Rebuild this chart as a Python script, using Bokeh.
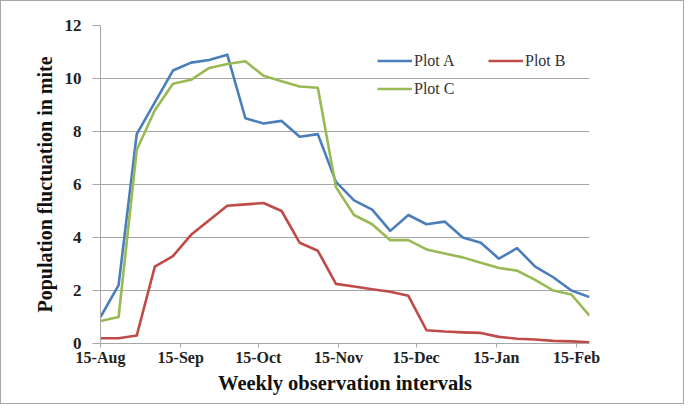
import pandas as pd
from bokeh.plotting import figure
from bokeh.models import Range1d, FixedTicker, DatetimeTickFormatter, Legend
from bokeh.embed import file_html
from bokeh.resources import INLINE

# ---- data (weekly observations starting 15-Aug) ----
start_date = "2012-08-15"
n_obs = 28
plot_a = [1.0, 2.2, 7.9, 9.1, 10.3, 10.6, 10.7, 10.9, 8.5, 8.3, 8.4, 7.8, 7.9, 6.1,
          5.4, 5.05, 4.25, 4.85, 4.5, 4.6, 4.0, 3.8, 3.2, 3.6, 2.9, 2.5, 2.0, 1.75]
plot_b = [0.2, 0.2, 0.3, 2.9, 3.3, 4.1, 4.65, 5.2, 5.25, 5.3, 5.0, 3.8, 3.5, 2.25,
          2.15, 2.05, 1.95, 1.8, 0.5, 0.45, 0.42, 0.4, 0.25, 0.18, 0.15, 0.1, 0.08, 0.05]
plot_c = [0.85, 1.0, 7.3, 8.8, 9.8, 9.95, 10.4, 10.55, 10.65, 10.1, 9.9, 9.7, 9.65, 5.9,
          4.85, 4.5, 3.9, 3.9, 3.55, 3.4, 3.25, 3.05, 2.85, 2.75, 2.4, 2.0, 1.85, 1.05]
tick_dates = ["2012-08-15", "2012-09-15", "2012-10-15", "2012-11-15",
              "2012-12-15", "2013-01-15", "2013-02-15"]
y_ticks = [0, 2, 4, 6, 8, 10, 12]
series_names = ["Plot A", "Plot B", "Plot C"]
series_colors = ["#4A7EBB", "#BE4B48", "#98B954"]

dates = pd.date_range(start_date, periods=n_obs, freq="7D")

FONT = "Liberation Serif"

p = figure(width=684, height=404, x_axis_type="datetime",
           output_backend="svg", toolbar_location=None,
           min_border_left=99, min_border_right=96,
           min_border_top=24, min_border_bottom=62)
p.x_range = Range1d(dates[0], dates[-1])
p.y_range = Range1d(0, 12)
p.outline_line_color = None
p.background_fill_color = "white"
p.border_fill_color = "white"
p.styles = {"border": "1px solid #a6a6a6"}

renderers = []
for name, vals, col in zip(series_names, [plot_a, plot_b, plot_c], series_colors):
    r = p.line(dates, vals, line_color=col, line_width=2.6, line_join="round")
    renderers.append(r)

# grid
p.xgrid.grid_line_color = None
p.ygrid.grid_line_color = "#a6a6a6"
p.ygrid.grid_line_width = 1

# y axis
p.yaxis.ticker = FixedTicker(ticks=y_ticks)
p.yaxis.axis_line_color = "#a6a6a6"
p.yaxis.major_tick_line_color = "#a6a6a6"
p.yaxis.major_tick_out = 8
p.yaxis.major_tick_in = 0
p.yaxis.minor_tick_line_color = None
p.yaxis.major_label_standoff = 11
p.yaxis.major_label_text_font = FONT
p.yaxis.major_label_text_font_style = "bold"
p.yaxis.major_label_text_font_size = "17px"
p.yaxis.major_label_text_color = "#222222"
p.yaxis.axis_label = "Population fluctuation in mite"
p.yaxis.axis_label_text_font = FONT
p.yaxis.axis_label_text_font_style = "bold"
p.yaxis.axis_label_text_font_size = "20px"
p.yaxis.axis_label_text_color = "#111111"
p.yaxis.axis_label_standoff = 6

# x axis
tick_ms = [int(pd.Timestamp(d).value // 10**6) for d in tick_dates]
p.xaxis.ticker = FixedTicker(ticks=tick_ms)
fmt = "%d-%b"
p.xaxis.formatter = DatetimeTickFormatter(days=fmt, months=fmt, years=fmt, hours=fmt,
                                          hourmin=fmt, context=None)
p.xaxis.axis_line_color = "#a6a6a6"
p.xaxis.major_tick_line_color = "#a6a6a6"
p.xaxis.major_tick_out = 4
p.xaxis.major_tick_in = 0
p.xaxis.minor_tick_line_color = None
p.xaxis.major_label_standoff = 1
p.xaxis.major_label_text_font = FONT
p.xaxis.major_label_text_font_style = "bold"
p.xaxis.major_label_text_font_size = "16px"
p.xaxis.major_label_text_color = "#222222"
p.xaxis.axis_label = "Weekly observation intervals"
p.xaxis.axis_label_text_font = FONT
p.xaxis.axis_label_text_font_style = "bold"
p.xaxis.axis_label_text_font_size = "20.5px"
p.xaxis.axis_label_text_color = "#111111"
p.xaxis.axis_label_standoff = 3

# legends
def make_legend(items, loc):
    lg = Legend(items=items, location=loc, orientation="vertical",
                padding=0, margin=0, spacing=3,
                glyph_width=35, glyph_height=25, label_height=25,
                label_standoff=2, border_line_alpha=0, background_fill_alpha=0,
                label_text_font=FONT, label_text_font_size="16px",
                label_text_color="#333333")
    return lg

leg1 = make_legend([(series_names[0], [renderers[0]]), (series_names[2], [renderers[2]])], (277, 242))
leg2 = make_legend([(series_names[1], [renderers[1]])], (388, 270))
p.add_layout(leg1)
p.add_layout(leg2)

open("out.html", "w").write(file_html(p, INLINE))
